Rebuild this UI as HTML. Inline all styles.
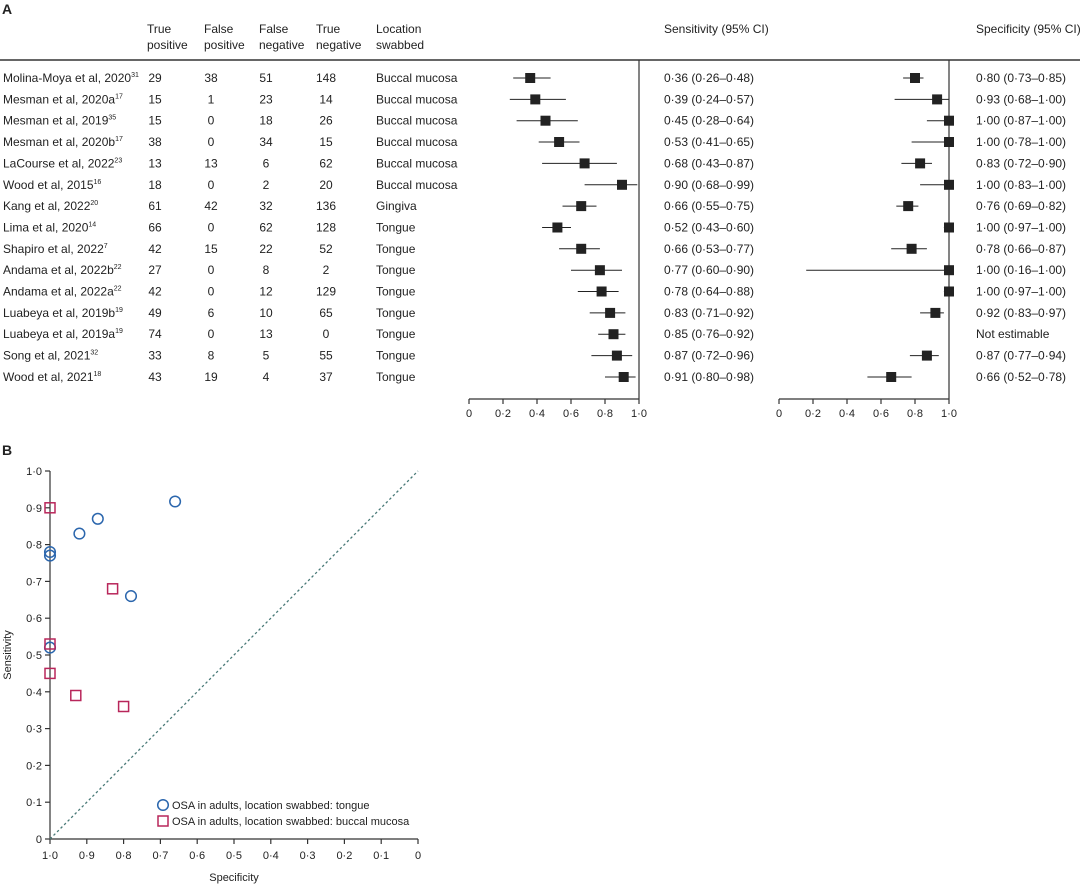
<!DOCTYPE html>
<html><head><meta charset="utf-8"><style>
body{margin:0;background:#fff}
svg{display:block;font-family:"Liberation Sans",sans-serif;font-size:12px;fill:#222}
</style></head><body>
<svg width="1080" height="884" viewBox="0 0 1080 884" xmlns="http://www.w3.org/2000/svg">
<text x="2" y="14" font-size="14" font-weight="bold">A</text>
<g font-size="12">
<text x="147" y="33">True</text><text x="147" y="49">positive</text>
<text x="204" y="33">False</text><text x="204" y="49">positive</text>
<text x="259" y="33">False</text><text x="259" y="49">negative</text>
<text x="316" y="33">True</text><text x="316" y="49">negative</text>
<text x="376" y="33">Location</text><text x="376" y="49">swabbed</text>
<text x="664" y="33">Sensitivity (95% CI)</text>
<text x="976" y="33">Specificity (95% CI)</text>
</g>
<line x1="0" y1="60" x2="1080" y2="60" stroke="#333" stroke-width="1.5"/>
<line x1="639" y1="60" x2="639" y2="399" stroke="#333" stroke-width="1.2"/>
<line x1="949" y1="60" x2="949" y2="399" stroke="#333" stroke-width="1.2"/>
<g stroke="#333" stroke-width="1.2">
<line x1="469" y1="399" x2="639" y2="399"/>
<line x1="469" y1="399" x2="469" y2="404"/><line x1="503" y1="399" x2="503" y2="404"/><line x1="537" y1="399" x2="537" y2="404"/><line x1="571" y1="399" x2="571" y2="404"/><line x1="605" y1="399" x2="605" y2="404"/><line x1="639" y1="399" x2="639" y2="404"/>
<line x1="779" y1="399" x2="949" y2="399"/>
<line x1="779" y1="399" x2="779" y2="404"/><line x1="813" y1="399" x2="813" y2="404"/><line x1="847" y1="399" x2="847" y2="404"/><line x1="881" y1="399" x2="881" y2="404"/><line x1="915" y1="399" x2="915" y2="404"/><line x1="949" y1="399" x2="949" y2="404"/>
</g>
<g font-size="11" text-anchor="middle">
<text x="469" y="417">0</text><text x="503" y="417">0·2</text><text x="537" y="417">0·4</text><text x="571" y="417">0·6</text><text x="605" y="417">0·8</text><text x="639" y="417">1·0</text>
<text x="779" y="417">0</text><text x="813" y="417">0·2</text><text x="847" y="417">0·4</text><text x="881" y="417">0·6</text><text x="915" y="417">0·8</text><text x="949" y="417">1·0</text>
</g>

<g font-size="12">
<!-- rows -->
<g transform="translate(0,78)"><text x="3" y="4">Molina-Moya et al, 2020<tspan font-size="7" dy="-5">31</tspan></text>
<text x="155" y="4" text-anchor="middle">29</text><text x="211" y="4" text-anchor="middle">38</text><text x="266" y="4" text-anchor="middle">51</text><text x="326" y="4" text-anchor="middle">148</text><text x="376" y="4">Buccal mucosa</text>
<line x1="513.2" x2="550.6" y1="0" y2="0" stroke="#222"/><rect x="525.2" y="-5" width="10" height="10" fill="#222"/>
<text x="664" y="4">0·36 (0·26–0·48)</text>
<line x1="903.1" x2="923.5" y1="0" y2="0" stroke="#222"/><rect x="910" y="-5" width="10" height="10" fill="#222"/>
<text x="976" y="4">0·80 (0·73–0·85)</text></g>

<g transform="translate(0,99.4)"><text x="3" y="4">Mesman et al, 2020a<tspan font-size="7" dy="-5">17</tspan></text>
<text x="155" y="4" text-anchor="middle">15</text><text x="211" y="4" text-anchor="middle">1</text><text x="266" y="4" text-anchor="middle">23</text><text x="326" y="4" text-anchor="middle">14</text><text x="376" y="4">Buccal mucosa</text>
<line x1="509.8" x2="565.9" y1="0" y2="0" stroke="#222"/><rect x="530.3" y="-5" width="10" height="10" fill="#222"/>
<text x="664" y="4">0·39 (0·24–0·57)</text>
<line x1="894.6" x2="949" y1="0" y2="0" stroke="#222"/><rect x="932.1" y="-5" width="10" height="10" fill="#222"/>
<text x="976" y="4">0·93 (0·68–1·00)</text></g>

<g transform="translate(0,120.7)"><text x="3" y="4">Mesman et al, 2019<tspan font-size="7" dy="-5">35</tspan></text>
<text x="155" y="4" text-anchor="middle">15</text><text x="211" y="4" text-anchor="middle">0</text><text x="266" y="4" text-anchor="middle">18</text><text x="326" y="4" text-anchor="middle">26</text><text x="376" y="4">Buccal mucosa</text>
<line x1="516.6" x2="577.8" y1="0" y2="0" stroke="#222"/><rect x="540.5" y="-5" width="10" height="10" fill="#222"/>
<text x="664" y="4">0·45 (0·28–0·64)</text>
<line x1="926.9" x2="949" y1="0" y2="0" stroke="#222"/><rect x="944" y="-5" width="10" height="10" fill="#222"/>
<text x="976" y="4">1·00 (0·87–1·00)</text></g>

<g transform="translate(0,142)"><text x="3" y="4">Mesman et al, 2020b<tspan font-size="7" dy="-5">17</tspan></text>
<text x="155" y="4" text-anchor="middle">38</text><text x="211" y="4" text-anchor="middle">0</text><text x="266" y="4" text-anchor="middle">34</text><text x="326" y="4" text-anchor="middle">15</text><text x="376" y="4">Buccal mucosa</text>
<line x1="538.7" x2="579.5" y1="0" y2="0" stroke="#222"/><rect x="554.1" y="-5" width="10" height="10" fill="#222"/>
<text x="664" y="4">0·53 (0·41–0·65)</text>
<line x1="911.6" x2="949" y1="0" y2="0" stroke="#222"/><rect x="944" y="-5" width="10" height="10" fill="#222"/>
<text x="976" y="4">1·00 (0·78–1·00)</text></g>

<g transform="translate(0,163.4)"><text x="3" y="4">LaCourse et al, 2022<tspan font-size="7" dy="-5">23</tspan></text>
<text x="155" y="4" text-anchor="middle">13</text><text x="211" y="4" text-anchor="middle">13</text><text x="266" y="4" text-anchor="middle">6</text><text x="326" y="4" text-anchor="middle">62</text><text x="376" y="4">Buccal mucosa</text>
<line x1="542.1" x2="616.9" y1="0" y2="0" stroke="#222"/><rect x="579.6" y="-5" width="10" height="10" fill="#222"/>
<text x="664" y="4">0·68 (0·43–0·87)</text>
<line x1="901.4" x2="932" y1="0" y2="0" stroke="#222"/><rect x="915.1" y="-5" width="10" height="10" fill="#222"/>
<text x="976" y="4">0·83 (0·72–0·90)</text></g>

<g transform="translate(0,184.8)"><text x="3" y="4">Wood et al, 2015<tspan font-size="7" dy="-5">16</tspan></text>
<text x="155" y="4" text-anchor="middle">18</text><text x="211" y="4" text-anchor="middle">0</text><text x="266" y="4" text-anchor="middle">2</text><text x="326" y="4" text-anchor="middle">20</text><text x="376" y="4">Buccal mucosa</text>
<line x1="584.6" x2="637.3" y1="0" y2="0" stroke="#222"/><rect x="617" y="-5" width="10" height="10" fill="#222"/>
<text x="664" y="4">0·90 (0·68–0·99)</text>
<line x1="920.1" x2="949" y1="0" y2="0" stroke="#222"/><rect x="944" y="-5" width="10" height="10" fill="#222"/>
<text x="976" y="4">1·00 (0·83–1·00)</text></g>

<g transform="translate(0,206.1)"><text x="3" y="4">Kang et al, 2022<tspan font-size="7" dy="-5">20</tspan></text>
<text x="155" y="4" text-anchor="middle">61</text><text x="211" y="4" text-anchor="middle">42</text><text x="266" y="4" text-anchor="middle">32</text><text x="326" y="4" text-anchor="middle">136</text><text x="376" y="4">Gingiva</text>
<line x1="562.5" x2="596.5" y1="0" y2="0" stroke="#222"/><rect x="576.2" y="-5" width="10" height="10" fill="#222"/>
<text x="664" y="4">0·66 (0·55–0·75)</text>
<line x1="896.3" x2="918.4" y1="0" y2="0" stroke="#222"/><rect x="903.2" y="-5" width="10" height="10" fill="#222"/>
<text x="976" y="4">0·76 (0·69–0·82)</text></g>

<g transform="translate(0,227.5)"><text x="3" y="4">Lima et al, 2020<tspan font-size="7" dy="-5">14</tspan></text>
<text x="155" y="4" text-anchor="middle">66</text><text x="211" y="4" text-anchor="middle">0</text><text x="266" y="4" text-anchor="middle">62</text><text x="326" y="4" text-anchor="middle">128</text><text x="376" y="4">Tongue</text>
<line x1="542.1" x2="571" y1="0" y2="0" stroke="#222"/><rect x="552.4" y="-5" width="10" height="10" fill="#222"/>
<text x="664" y="4">0·52 (0·43–0·60)</text>
<line x1="943.9" x2="949" y1="0" y2="0" stroke="#222"/><rect x="944" y="-5" width="10" height="10" fill="#222"/>
<text x="976" y="4">1·00 (0·97–1·00)</text></g>

<g transform="translate(0,248.8)"><text x="3" y="4">Shapiro et al, 2022<tspan font-size="7" dy="-5">7</tspan></text>
<text x="155" y="4" text-anchor="middle">42</text><text x="211" y="4" text-anchor="middle">15</text><text x="266" y="4" text-anchor="middle">22</text><text x="326" y="4" text-anchor="middle">52</text><text x="376" y="4">Tongue</text>
<line x1="559.1" x2="599.9" y1="0" y2="0" stroke="#222"/><rect x="576.2" y="-5" width="10" height="10" fill="#222"/>
<text x="664" y="4">0·66 (0·53–0·77)</text>
<line x1="891.2" x2="926.9" y1="0" y2="0" stroke="#222"/><rect x="906.6" y="-5" width="10" height="10" fill="#222"/>
<text x="976" y="4">0·78 (0·66–0·87)</text></g>

<g transform="translate(0,270.2)"><text x="3" y="4">Andama et al, 2022b<tspan font-size="7" dy="-5">22</tspan></text>
<text x="155" y="4" text-anchor="middle">27</text><text x="211" y="4" text-anchor="middle">0</text><text x="266" y="4" text-anchor="middle">8</text><text x="326" y="4" text-anchor="middle">2</text><text x="376" y="4">Tongue</text>
<line x1="571" x2="622" y1="0" y2="0" stroke="#222"/><rect x="594.9" y="-5" width="10" height="10" fill="#222"/>
<text x="664" y="4">0·77 (0·60–0·90)</text>
<line x1="806.2" x2="949" y1="0" y2="0" stroke="#222"/><rect x="944" y="-5" width="10" height="10" fill="#222"/>
<text x="976" y="4">1·00 (0·16–1·00)</text></g>

<g transform="translate(0,291.5)"><text x="3" y="4">Andama et al, 2022a<tspan font-size="7" dy="-5">22</tspan></text>
<text x="155" y="4" text-anchor="middle">42</text><text x="211" y="4" text-anchor="middle">0</text><text x="266" y="4" text-anchor="middle">12</text><text x="326" y="4" text-anchor="middle">129</text><text x="376" y="4">Tongue</text>
<line x1="577.8" x2="618.6" y1="0" y2="0" stroke="#222"/><rect x="596.6" y="-5" width="10" height="10" fill="#222"/>
<text x="664" y="4">0·78 (0·64–0·88)</text>
<line x1="943.9" x2="949" y1="0" y2="0" stroke="#222"/><rect x="944" y="-5" width="10" height="10" fill="#222"/>
<text x="976" y="4">1·00 (0·97–1·00)</text></g>

<g transform="translate(0,312.9)"><text x="3" y="4">Luabeya et al, 2019b<tspan font-size="7" dy="-5">19</tspan></text>
<text x="155" y="4" text-anchor="middle">49</text><text x="211" y="4" text-anchor="middle">6</text><text x="266" y="4" text-anchor="middle">10</text><text x="326" y="4" text-anchor="middle">65</text><text x="376" y="4">Tongue</text>
<line x1="589.7" x2="625.4" y1="0" y2="0" stroke="#222"/><rect x="605.1" y="-5" width="10" height="10" fill="#222"/>
<text x="664" y="4">0·83 (0·71–0·92)</text>
<line x1="920.1" x2="943.9" y1="0" y2="0" stroke="#222"/><rect x="930.4" y="-5" width="10" height="10" fill="#222"/>
<text x="976" y="4">0·92 (0·83–0·97)</text></g>

<g transform="translate(0,334.2)"><text x="3" y="4">Luabeya et al, 2019a<tspan font-size="7" dy="-5">19</tspan></text>
<text x="155" y="4" text-anchor="middle">74</text><text x="211" y="4" text-anchor="middle">0</text><text x="266" y="4" text-anchor="middle">13</text><text x="326" y="4" text-anchor="middle">0</text><text x="376" y="4">Tongue</text>
<line x1="598.2" x2="625.4" y1="0" y2="0" stroke="#222"/><rect x="608.5" y="-5" width="10" height="10" fill="#222"/>
<text x="664" y="4">0·85 (0·76–0·92)</text>
<text x="976" y="4">Not estimable</text></g>

<g transform="translate(0,355.6)"><text x="3" y="4">Song et al, 2021<tspan font-size="7" dy="-5">32</tspan></text>
<text x="155" y="4" text-anchor="middle">33</text><text x="211" y="4" text-anchor="middle">8</text><text x="266" y="4" text-anchor="middle">5</text><text x="326" y="4" text-anchor="middle">55</text><text x="376" y="4">Tongue</text>
<line x1="591.4" x2="632.2" y1="0" y2="0" stroke="#222"/><rect x="611.9" y="-5" width="10" height="10" fill="#222"/>
<text x="664" y="4">0·87 (0·72–0·96)</text>
<line x1="909.9" x2="938.8" y1="0" y2="0" stroke="#222"/><rect x="921.9" y="-5" width="10" height="10" fill="#222"/>
<text x="976" y="4">0·87 (0·77–0·94)</text></g>

<g transform="translate(0,377)"><text x="3" y="4">Wood et al, 2021<tspan font-size="7" dy="-5">18</tspan></text>
<text x="155" y="4" text-anchor="middle">43</text><text x="211" y="4" text-anchor="middle">19</text><text x="266" y="4" text-anchor="middle">4</text><text x="326" y="4" text-anchor="middle">37</text><text x="376" y="4">Tongue</text>
<line x1="605" x2="635.6" y1="0" y2="0" stroke="#222"/><rect x="618.7" y="-5" width="10" height="10" fill="#222"/>
<text x="664" y="4">0·91 (0·80–0·98)</text>
<line x1="867.4" x2="911.6" y1="0" y2="0" stroke="#222"/><rect x="886.2" y="-5" width="10" height="10" fill="#222"/>
<text x="976" y="4">0·66 (0·52–0·78)</text></g>
</g>

<!-- Panel B -->
<text x="2" y="455" font-size="14" font-weight="bold">B</text>
<g stroke="#333" stroke-width="1.2" fill="none">
<line x1="50" y1="471" x2="50" y2="839"/>
<line x1="50" y1="839" x2="418" y2="839"/>
<line x1="45" y1="471" x2="50" y2="471"/><line x1="45" y1="507.8" x2="50" y2="507.8"/><line x1="45" y1="544.6" x2="50" y2="544.6"/><line x1="45" y1="581.4" x2="50" y2="581.4"/><line x1="45" y1="618.2" x2="50" y2="618.2"/><line x1="45" y1="655" x2="50" y2="655"/><line x1="45" y1="691.8" x2="50" y2="691.8"/><line x1="45" y1="728.6" x2="50" y2="728.6"/><line x1="45" y1="765.4" x2="50" y2="765.4"/><line x1="45" y1="802.2" x2="50" y2="802.2"/><line x1="45" y1="839" x2="50" y2="839"/>
<line x1="50" y1="839" x2="50" y2="844"/><line x1="86.8" y1="839" x2="86.8" y2="844"/><line x1="123.6" y1="839" x2="123.6" y2="844"/><line x1="160.4" y1="839" x2="160.4" y2="844"/><line x1="197.2" y1="839" x2="197.2" y2="844"/><line x1="234" y1="839" x2="234" y2="844"/><line x1="270.8" y1="839" x2="270.8" y2="844"/><line x1="307.6" y1="839" x2="307.6" y2="844"/><line x1="344.4" y1="839" x2="344.4" y2="844"/><line x1="381.2" y1="839" x2="381.2" y2="844"/><line x1="418" y1="839" x2="418" y2="844"/>
</g>
<g font-size="11" text-anchor="end">
<text x="42" y="475">1·0</text><text x="42" y="511.8">0·9</text><text x="42" y="548.6">0·8</text><text x="42" y="585.4">0·7</text><text x="42" y="622.2">0·6</text><text x="42" y="659">0·5</text><text x="42" y="695.8">0·4</text><text x="42" y="732.6">0·3</text><text x="42" y="769.4">0·2</text><text x="42" y="806.2">0·1</text><text x="42" y="843">0</text>
</g>
<g font-size="11" text-anchor="middle">
<text x="50" y="859">1·0</text><text x="86.8" y="859">0·9</text><text x="123.6" y="859">0·8</text><text x="160.4" y="859">0·7</text><text x="197.2" y="859">0·6</text><text x="234" y="859">0·5</text><text x="270.8" y="859">0·4</text><text x="307.6" y="859">0·3</text><text x="344.4" y="859">0·2</text><text x="381.2" y="859">0·1</text><text x="418" y="859">0</text>
<text x="234" y="881">Specificity</text>
<text transform="translate(11,655) rotate(-90)">Sensitivity</text>
</g>
<line x1="50" y1="839" x2="418" y2="471" stroke="#4a7a78" stroke-width="1.3" stroke-dasharray="2.5,2.5"/>
<g fill="none" stroke="#2b66ad" stroke-width="1.5">
<circle cx="79.4" cy="533.6" r="5.3"/><circle cx="97.8" cy="518.8" r="5.3"/><circle cx="175.1" cy="501.5" r="5.3"/><circle cx="50" cy="552" r="5.3"/><circle cx="50" cy="555.6" r="5.3"/><circle cx="131" cy="596.1" r="5.3"/><circle cx="50" cy="647.6" r="5.3"/>
<circle cx="163" cy="805" r="5.3"/>
</g>
<g fill="none" stroke="#b8265a" stroke-width="1.5">
<rect x="45" y="502.8" width="10" height="10"/><rect x="107.6" y="583.8" width="10" height="10"/><rect x="45" y="639" width="10" height="10"/><rect x="45" y="668.4" width="10" height="10"/><rect x="70.8" y="690.5" width="10" height="10"/><rect x="118.6" y="701.5" width="10" height="10"/>
<rect x="158" y="816" width="10" height="10"/>
</g>
<g font-size="11">
<text x="172" y="809">OSA in adults, location swabbed: tongue</text>
<text x="172" y="825">OSA in adults, location swabbed: buccal mucosa</text>
</g>
</svg>
</body></html>
